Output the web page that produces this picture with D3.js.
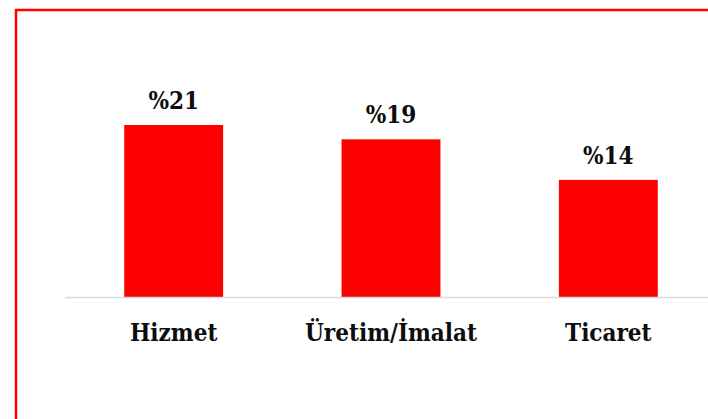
<!DOCTYPE html>
<html>
<head>
<meta charset="utf-8">
<script src="https://cdn.jsdelivr.net/npm/d3@7"></script>
<style>
  html, body { margin: 0; padding: 0; background: #fff; overflow: hidden; }
  svg { display: block; }
</style>
</head>
<body>
<div id="chart"></div>
<script>
// data
const categories = ["Hizmet", "Üretim/İmalat", "Ticaret"];
const values = [21, 19.25, 14.3];
const valueLabels = ["%21", "%19", "%14"];

const width = 708, height = 419;
const baseY = 297;
const font = "'DejaVu Serif Condensed', 'DejaVu Serif', serif";
const fontSize = 24;

const svg = d3.select("#chart").append("svg")
  .attr("width", width)
  .attr("height", height);

// outer red frame (right and bottom edges fall outside the picture)
svg.append("rect")
  .attr("x", 16).attr("y", 10)
  .attr("width", 800).attr("height", 600)
  .attr("fill", "none")
  .attr("stroke", "#ff0000")
  .attr("stroke-width", 2.5);

const x = d3.scaleBand()
  .domain(categories)
  .range([65, 717])
  .paddingInner(0.545)
  .paddingOuter(0.2725);

const y = d3.scaleLinear()
  .domain([0, 21])
  .range([baseY, 125]);

const bars = values.map((v, i) => ({cat: categories[i], v: v, label: valueLabels[i]}));

svg.selectAll("rect.bar")
  .data(bars)
  .join("rect")
  .attr("class", "bar")
  .attr("x", d => x(d.cat))
  .attr("y", d => y(d.v))
  .attr("width", x.bandwidth())
  .attr("height", d => baseY - y(d.v))
  .attr("fill", "#ff0000");

// category axis: gray line, no ticks
const axis = svg.append("g")
  .attr("transform", "translate(0," + baseY + ")")
  .call(d3.axisBottom(x).tickSize(0).tickPadding(34));
axis.select(".domain")
  .attr("stroke", "#d9d9d9")
  .attr("stroke-width", 1.5)
  .attr("d", "M65,0.5H717");
axis.selectAll("text")
  .attr("font-family", font)
  .attr("font-stretch", "condensed")
  .attr("font-weight", "bold")
  .attr("font-size", fontSize)
  .attr("fill", "#0d0d0d")
  .attr("dy", "0.42em");

// value labels above bars
svg.selectAll("text.val")
  .data(bars)
  .join("text")
  .attr("class", "val")
  .attr("x", d => x(d.cat) + x.bandwidth() / 2)
  .attr("y", d => y(d.v) - 16)
  .attr("text-anchor", "middle")
  .attr("font-family", font)
  .attr("font-stretch", "condensed")
  .attr("font-weight", "bold")
  .attr("font-size", fontSize)
  .attr("fill", "#0d0d0d")
  .text(d => d.label);
</script>
</body>
</html>
